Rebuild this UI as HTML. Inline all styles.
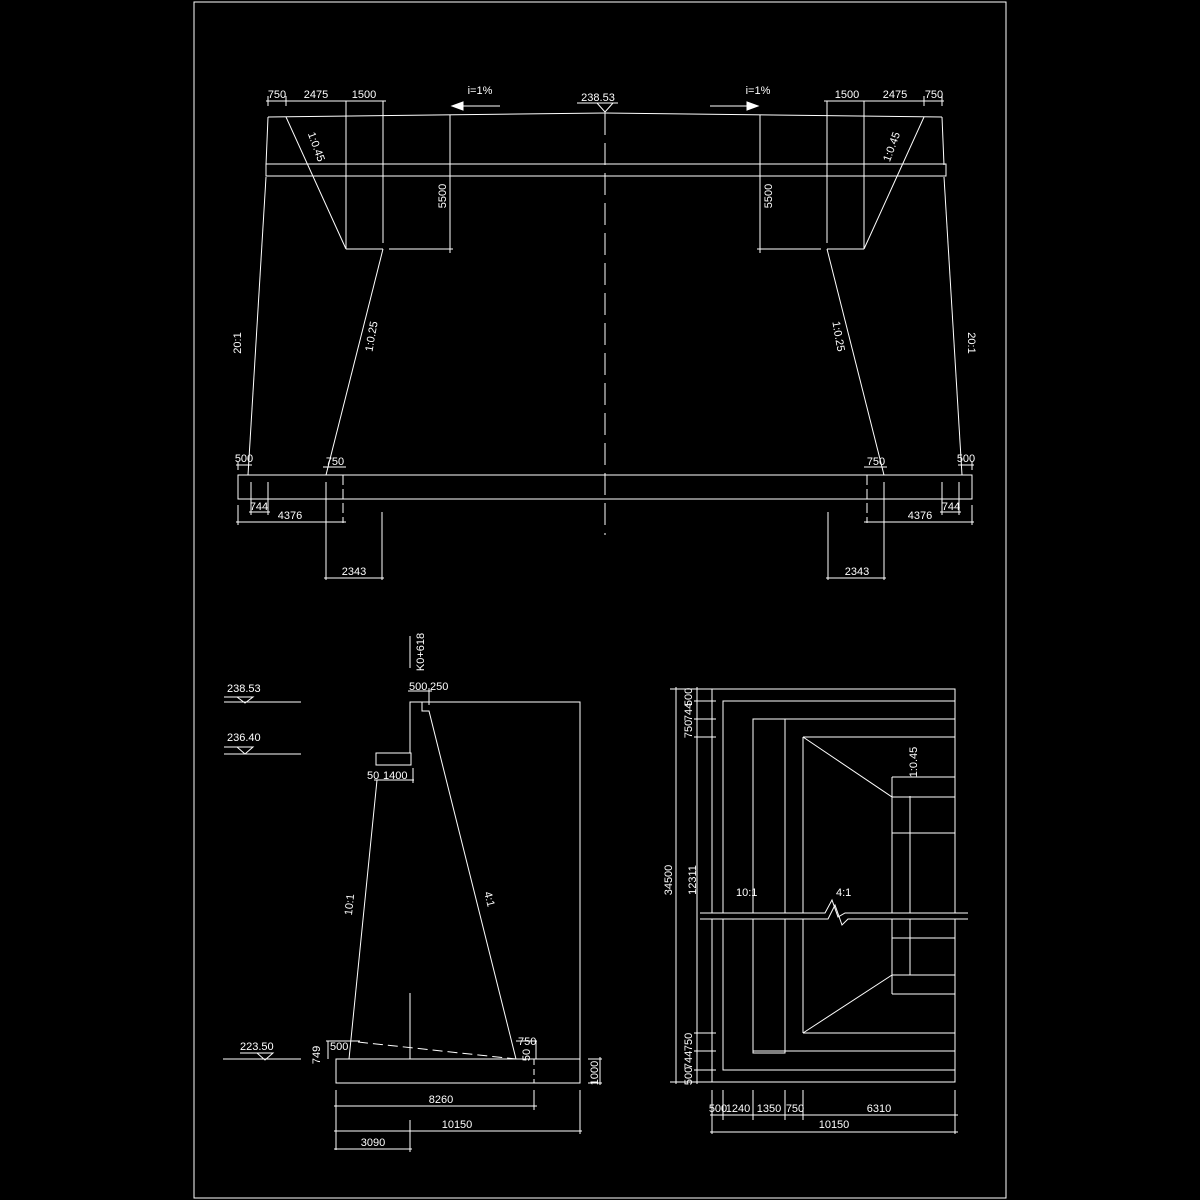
<!DOCTYPE html>
<html><head><meta charset="utf-8"><style>
html,body{margin:0;padding:0;background:#000;width:1200px;height:1200px;overflow:hidden}
svg{display:block}
text{font-family:"Liberation Sans",sans-serif;font-size:11px;fill:#fff}
</style></head><body>
<svg width="1200" height="1200" viewBox="0 0 1200 1200" xmlns="http://www.w3.org/2000/svg">
<rect width="1200" height="1200" fill="#000"/>
<g stroke="#fff" stroke-width="1" fill="none">
<rect x="194" y="2" width="812" height="1196"/>
<line x1="605" y1="113" x2="605" y2="535" stroke-dasharray="22,8"/>
<g id="half">
<polyline points="268,117 266,165"/>
<polyline points="266,177 248,475"/>
<line x1="268" y1="117" x2="605" y2="113"/>
<line x1="286" y1="117" x2="346" y2="249"/>
<line x1="346" y1="101" x2="346" y2="249"/>
<line x1="383" y1="101" x2="383" y2="243"/>
<line x1="346" y1="249" x2="383" y2="249"/>
<line x1="389" y1="249" x2="453" y2="249"/>
<line x1="450" y1="115" x2="450" y2="253"/>
<line x1="383" y1="249" x2="326" y2="475"/>
<line x1="266" y1="101" x2="386" y2="101"/>
<line x1="268" y1="96" x2="268" y2="106"/><line x1="286" y1="96" x2="286" y2="106"/>
<line x1="452" y1="106" x2="500" y2="106"/>
<polygon points="452,106 463,102 463,110" fill="#fff"/>
<line x1="343" y1="475" x2="343" y2="523" stroke-dasharray="10,4"/>
<line x1="238" y1="462" x2="238" y2="470"/>
<line x1="236" y1="465" x2="252" y2="465"/>
<line x1="323" y1="467" x2="346" y2="467"/>
<line x1="251" y1="482" x2="251" y2="515"/><line x1="268" y1="482" x2="268" y2="515"/>
<line x1="249" y1="512" x2="270" y2="512"/>
<line x1="238" y1="505" x2="238" y2="525"/>
<line x1="236" y1="522" x2="346" y2="522"/>
<line x1="326" y1="482" x2="326" y2="580"/>
<line x1="382" y1="512" x2="382" y2="580"/>
<line x1="324" y1="578" x2="384" y2="578"/>
</g>
<use href="#half" transform="translate(1210,0) scale(-1,1)"/>
<rect x="266" y="164" width="680" height="12"/>
<rect x="238" y="475" width="734" height="24"/>
<line x1="577" y1="103" x2="618" y2="103"/>
<polyline points="597,103 605,112 613,103"/>

<line x1="224" y1="702" x2="301" y2="702"/><polyline points="224,697 253,697 245,703 237,697"/>
<line x1="224" y1="754" x2="301" y2="754"/><polyline points="224,747 253,747 245,754 237,747"/>
<line x1="223" y1="1059" x2="301" y2="1059"/><polyline points="240,1053 273,1053 265,1060 257,1053"/>
<line x1="410" y1="636" x2="410" y2="668"/>
<polyline points="410,753 410,702 580,702 580,1083 336,1083 336,1059 580,1059"/>
<rect x="376" y="753" width="35" height="12"/>
<line x1="377" y1="780" x2="349" y2="1059"/>
<polyline points="422,702 422,711 429,711 516,1059"/>
<line x1="358" y1="1042" x2="516" y2="1059" stroke-dasharray="10,5"/>
<line x1="410" y1="993" x2="410" y2="1059"/>
<line x1="534" y1="1059" x2="534" y2="1083" stroke-dasharray="6,4"/>
<line x1="408" y1="691" x2="432" y2="691"/><line x1="429" y1="688" x2="429" y2="705"/>
<line x1="374" y1="780" x2="414" y2="780"/><line x1="413" y1="768" x2="413" y2="783"/>
<line x1="328" y1="1041" x2="328" y2="1059"/><line x1="326" y1="1041" x2="360" y2="1041"/>
<line x1="516" y1="1041" x2="537" y2="1041"/><line x1="536" y1="1041" x2="536" y2="1059"/>
<line x1="600" y1="1057" x2="600" y2="1085"/><line x1="588" y1="1059" x2="602" y2="1059"/><line x1="588" y1="1083" x2="602" y2="1083"/>
<line x1="336" y1="1090" x2="336" y2="1150"/><line x1="534" y1="1090" x2="534" y2="1110"/>
<line x1="580" y1="1090" x2="580" y2="1134"/><line x1="410" y1="1120" x2="410" y2="1152"/>
<line x1="334" y1="1106" x2="537" y2="1106"/>
<line x1="334" y1="1131" x2="582" y2="1131"/>
<line x1="334" y1="1149" x2="412" y2="1149"/>

<rect x="712" y="689" width="243" height="393"/>
<rect x="723" y="701" width="232" height="369"/>
<line x1="753" y1="719" x2="955" y2="719"/><line x1="753" y1="1051" x2="955" y2="1051"/>
<rect x="753" y="719" width="32" height="334"/>
<line x1="803" y1="737" x2="955" y2="737"/><line x1="803" y1="1033" x2="955" y2="1033"/>
<line x1="803" y1="737" x2="803" y2="1033"/>
<line x1="803" y1="737" x2="892" y2="797"/><line x1="803" y1="1033" x2="892" y2="975"/>
<line x1="892" y1="777" x2="892" y2="994"/>
<line x1="892" y1="777" x2="955" y2="777"/><line x1="892" y1="797" x2="955" y2="797"/>
<line x1="892" y1="833" x2="955" y2="833"/><line x1="892" y1="938" x2="955" y2="938"/>
<line x1="892" y1="975" x2="955" y2="975"/><line x1="892" y1="994" x2="955" y2="994"/>
<line x1="910" y1="796" x2="910" y2="975"/>
<rect x="702" y="913" width="266" height="6" fill="#000" stroke="none"/>
<polyline points="700,913 825,913 832,900 838,917 845,913 968,913"/>
<polyline points="700,919 828,919 835,905 842,925 848,919 968,919"/>
<line x1="676" y1="687" x2="676" y2="1084"/><line x1="670" y1="689" x2="712" y2="689"/><line x1="670" y1="1082" x2="712" y2="1082"/>
<line x1="697" y1="687" x2="697" y2="1084"/>
<line x1="694" y1="701" x2="716" y2="701"/><line x1="694" y1="719" x2="716" y2="719"/><line x1="694" y1="737" x2="716" y2="737"/>
<line x1="694" y1="1033" x2="716" y2="1033"/><line x1="694" y1="1051" x2="716" y2="1051"/><line x1="694" y1="1070" x2="716" y2="1070"/>
<line x1="712" y1="1090" x2="712" y2="1134"/><line x1="723" y1="1090" x2="723" y2="1120"/><line x1="753" y1="1090" x2="753" y2="1120"/>
<line x1="785" y1="1090" x2="785" y2="1120"/><line x1="803" y1="1090" x2="803" y2="1120"/><line x1="955" y1="1090" x2="955" y2="1134"/>
<line x1="710" y1="1115" x2="958" y2="1115"/><line x1="710" y1="1132" x2="958" y2="1132"/>
</g>
<g>
<text x="277" y="98" text-anchor="middle">750</text>
<text x="316" y="98" text-anchor="middle">2475</text>
<text x="364" y="98" text-anchor="middle">1500</text>
<text x="480" y="94" text-anchor="middle" font-size="10">i=1%</text>
<text x="598" y="101" text-anchor="middle" font-size="14">238.53</text>
<text x="758" y="94" text-anchor="middle" font-size="10">i=1%</text>
<text x="847" y="98" text-anchor="middle">1500</text>
<text x="895" y="98" text-anchor="middle">2475</text>
<text x="934" y="98" text-anchor="middle">750</text>
<text transform="translate(446,196) rotate(-90)" text-anchor="middle">5500</text>
<text transform="translate(772,196) rotate(-90)" text-anchor="middle">5500</text>
<text transform="translate(313,148) rotate(70)" text-anchor="middle" font-size="10">1:0.45</text>
<text transform="translate(895,148) rotate(-70)" text-anchor="middle" font-size="10">1:0.45</text>
<text transform="translate(375,337) rotate(-80)" text-anchor="middle" font-size="10">1:0.25</text>
<text transform="translate(835,337) rotate(80)" text-anchor="middle" font-size="10">1:0.25</text>
<text transform="translate(241,343) rotate(-90)" text-anchor="middle" font-size="10">20:1</text>
<text transform="translate(968,343) rotate(90)" text-anchor="middle" font-size="10">20:1</text>
<text x="244" y="462" text-anchor="middle" font-size="10">500</text>
<text x="335" y="465" text-anchor="middle">750</text>
<text x="966" y="462" text-anchor="middle" font-size="10">500</text>
<text x="876" y="465" text-anchor="middle">750</text>
<text x="259" y="510" text-anchor="middle">744</text>
<text x="290" y="519" text-anchor="middle">4376</text>
<text x="951" y="510" text-anchor="middle">744</text>
<text x="920" y="519" text-anchor="middle">4376</text>
<text x="354" y="575" text-anchor="middle">2343</text>
<text x="857" y="575" text-anchor="middle">2343</text>

<text x="227" y="692" font-size="12">238.53</text>
<text x="227" y="741" font-size="12">236.40</text>
<text x="240" y="1050" font-size="14">223.50</text>
<text transform="translate(424,652) rotate(-90)" text-anchor="middle" font-size="10">K0+618</text>
<text x="409" y="690" font-size="10">500</text><text x="430" y="690" font-size="10">250</text>
<text x="367" y="779" font-size="10">50</text><text x="383" y="779" font-size="10">1400</text>
<text transform="translate(353,905) rotate(-84)" text-anchor="middle" font-size="10">10:1</text>
<text transform="translate(486,900) rotate(76)" text-anchor="middle" font-size="10">4:1</text>
<text transform="translate(320,1055) rotate(-90)" text-anchor="middle" font-size="10">749</text>
<text x="330" y="1050" font-size="10">500</text>
<text x="518" y="1045" font-size="10">750</text>
<text transform="translate(530,1055) rotate(-90)" text-anchor="middle" font-size="10">50</text>
<text transform="translate(598,1073) rotate(-90)" text-anchor="middle" font-size="10">1000</text>
<text x="441" y="1103" text-anchor="middle">8260</text>
<text x="457" y="1128" text-anchor="middle">10150</text>
<text x="373" y="1146" text-anchor="middle">3090</text>

<text transform="translate(672,880) rotate(-90)" text-anchor="middle" font-size="10">34500</text>
<text transform="translate(696,880) rotate(-90)" text-anchor="middle" font-size="10">12311</text>
<text transform="translate(692,697) rotate(-90)" text-anchor="middle" font-size="10">500</text>
<text transform="translate(692,712) rotate(-90)" text-anchor="middle" font-size="10">744</text>
<text transform="translate(692,729) rotate(-90)" text-anchor="middle" font-size="10">750</text>
<text transform="translate(692,1042) rotate(-90)" text-anchor="middle" font-size="10">750</text>
<text transform="translate(692,1060) rotate(-90)" text-anchor="middle" font-size="10">744</text>
<text transform="translate(692,1076) rotate(-90)" text-anchor="middle" font-size="10">500</text>
<text x="736" y="896" font-size="10">10:1</text>
<text x="836" y="896" font-size="10">4:1</text>
<text transform="translate(917,762) rotate(-90)" text-anchor="middle" font-size="10">1:0.45</text>
<text x="718" y="1112" text-anchor="middle" font-size="10">500</text>
<text x="738" y="1112" text-anchor="middle" font-size="10">1240</text>
<text x="769" y="1112" text-anchor="middle" font-size="10">1350</text>
<text x="795" y="1112" text-anchor="middle" font-size="10">750</text>
<text x="879" y="1112" text-anchor="middle" font-size="10">6310</text>
<text x="834" y="1128" text-anchor="middle" font-size="10">10150</text>
</g>
</svg>
</body></html>
